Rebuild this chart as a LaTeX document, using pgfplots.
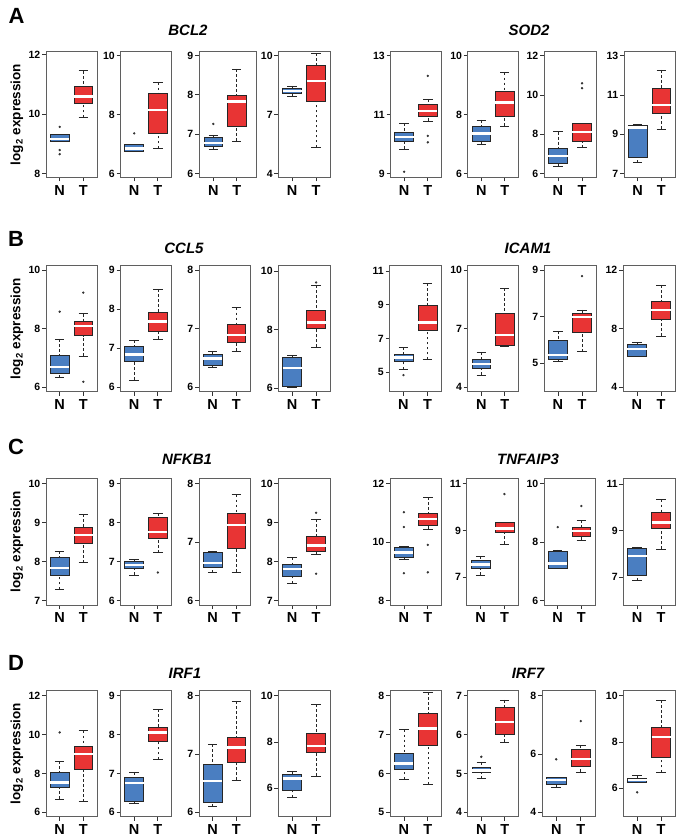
\documentclass[border=0pt]{standalone}
\usepackage{fontspec}
\setmainfont{Liberation Sans}
\usepackage{pgfplots}
\pgfplotsset{compat=1.18}
\usepgfplotslibrary{statistics}
\definecolor{nblue}{RGB}{74,126,193}
\definecolor{tred}{RGB}{232,52,52}
\definecolor{frm}{RGB}{95,95,95}

\pgfplotsset{
  /pgfplots/boxplot/draw/lower whisker/.code={%
    \draw[/pgfplots/boxplot/every whisker/.try, dash pattern=on 2.8pt off 2.2pt]
      (boxplot box cs:\pgfplotsboxplotvalue{lower whisker},0.5) --
      (boxplot box cs:\pgfplotsboxplotvalue{lower quartile},0.5);
    \draw[/pgfplots/boxplot/every whisker/.try]
      (boxplot whisker cs:\pgfplotsboxplotvalue{lower whisker},0) --
      (boxplot whisker cs:\pgfplotsboxplotvalue{lower whisker},1);
  },
  /pgfplots/boxplot/draw/upper whisker/.code={%
    \draw[/pgfplots/boxplot/every whisker/.try, dash pattern=on 2.8pt off 2.2pt]
      (boxplot box cs:\pgfplotsboxplotvalue{upper whisker},0.5) --
      (boxplot box cs:\pgfplotsboxplotvalue{upper quartile},0.5);
    \draw[/pgfplots/boxplot/every whisker/.try]
      (boxplot whisker cs:\pgfplotsboxplotvalue{upper whisker},0) --
      (boxplot whisker cs:\pgfplotsboxplotvalue{upper whisker},1);
  },
  bx/.style={
    scale only axis, anchor=south west,
    xmin=0.42, xmax=2.58,
    xtick={1,2}, xticklabels={N,T},
    axis line style={draw=frm, line width=0.9pt},
    tick align=outside,
    xtick pos=left, ytick pos=left,
    major tick length=4pt,
    tick style={draw=black!80, line width=0.7pt},
    /pgf/number format/assume math mode=true,
    yticklabel style={font=\bfseries\fontsize{10.5}{12}\selectfont, inner sep=1.5pt},
    xticklabel style={font=\bfseries\fontsize{14.5}{16}\selectfont, inner sep=1pt, yshift=-2.5pt},
    boxplot/draw direction=y,
    boxplot/box extend=0.8,
    boxplot/whisker extend=0.4,
    boxplot/every median/.style={draw=white, line width=2.4pt},
    boxplot/every whisker/.style={draw=black!85, line width=0.6pt},
  },
  NN/.style={draw=black!85, line width=0.6pt, mark=*, mark size=0.85pt,
    mark options={fill=black!80, draw=black!80, solid},
    boxplot/every box/.style={fill=nblue, draw=black!85}},
  TT/.style={draw=black!85, line width=0.6pt, mark=*, mark size=0.85pt,
    mark options={fill=black!80, draw=black!80, solid},
    boxplot/every box/.style={fill=tred, draw=black!85}},
}
\newcommand{\bN}[6]{\addplot[NN, boxplot prepared={draw position=1, lower whisker=#1, lower quartile=#2, median=#3, upper quartile=#4, upper whisker=#5}] coordinates {#6};}
\newcommand{\bT}[6]{\addplot[TT, boxplot prepared={draw position=2, lower whisker=#1, lower quartile=#2, median=#3, upper quartile=#4, upper whisker=#5}] coordinates {#6};}

\begin{document}
\begin{tikzpicture}
\path[use as bounding box] (0pt,0pt) rectangle (683pt,840pt);

% ---------- labels ----------
\tikzset{plet/.style={font=\bfseries\fontsize{22}{24}\selectfont},
  gtit/.style={font=\bfseries\itshape\fontsize{15}{17}\selectfont},
  ylab/.style={font=\bfseries\fontsize{13.5}{15}\selectfont, rotate=90}}
\node[plet] at (16.5pt,824pt) {A};
\node[plet] at (16pt,601pt) {B};
\node[plet] at (16pt,393pt) {C};
\node[plet] at (16pt,177pt) {D};
\node[gtit] at (188pt,810pt) {BCL2};
\node[gtit] at (529pt,810pt) {SOD2};
\node[gtit] at (184pt,592pt) {CCL5};
\node[gtit] at (528pt,592pt) {ICAM1};
\node[gtit] at (187pt,381pt) {NFKB1};
\node[gtit] at (528pt,381pt) {TNFAIP3};
\node[gtit] at (185pt,167pt) {IRF1};
\node[gtit] at (528pt,167pt) {IRF7};
\node[ylab] at (17pt,725.5pt) {log\textsubscript{2} expression};
\node[ylab] at (17pt,511.3pt) {log\textsubscript{2} expression};
\node[ylab] at (17pt,298.3pt) {log\textsubscript{2} expression};
\node[ylab] at (17pt,86.3pt) {log\textsubscript{2} expression};

% ================= Row A =================
\begin{axis}[bx, at={(46pt,662.5pt)}, width=51pt, height=126pt, ymin=7.865, ymax=12.11, ytick={8,10,12}]
\bN{9.10}{9.10}{9.17}{9.32}{9.32}{(0,9.57)(0,8.79)(0,8.65)}
\bT{9.89}{10.37}{10.59}{10.93}{11.46}{}
\end{axis}
\begin{axis}[bx, at={(120.5pt,662.5pt)}, width=51pt, height=126pt, ymin=5.864, ymax=10.136, ytick={6,8,10}]
\bN{6.75}{6.76}{6.85}{6.99}{6.99}{(0,7.36)}
\bT{6.85}{7.36}{8.15}{8.72}{9.08}{}
\end{axis}
\begin{axis}[bx, at={(199pt,662.5pt)}, width=57.7pt, height=126pt, xmin=0.389, xmax=2.855, ymin=5.898, ymax=9.102, ytick={6,7,8,9}]
\bN{6.61}{6.68}{6.77}{6.91}{6.98}{(0,7.26)}
\bT{6.83}{7.19}{7.83}{8.00}{8.66}{}
\end{axis}
\begin{axis}[bx, at={(278.3pt,662.5pt)}, width=51.7pt, height=126pt, ymin=3.796, ymax=10.222, ytick={4,7,10}]
\bN{7.92}{8.09}{8.20}{8.35}{8.47}{}
\bT{5.33}{7.70}{8.72}{9.54}{10.14}{}
\end{axis}
\begin{axis}[bx, at={(390.5pt,662.5pt)}, width=51pt, height=126pt, ymin=8.864, ymax=13.148, ytick={9,11,13}]
\bN{9.83}{10.11}{10.25}{10.40}{10.70}{(0,9.06)}
\bT{10.78}{10.95}{11.13}{11.35}{11.53}{(0,12.32)(0,10.28)(0,10.06)}
\end{axis}
\begin{axis}[bx, at={(467.7pt,662.5pt)}, width=50.6pt, height=126pt, ymin=5.864, ymax=10.148, ytick={6,8,10}]
\bN{6.99}{7.10}{7.36}{7.59}{7.82}{}
\bT{7.61}{7.93}{8.41}{8.81}{9.43}{}
\end{axis}
\begin{axis}[bx, at={(544pt,662.5pt)}, width=52pt, height=126pt, ymin=5.796, ymax=12.222, ytick={6,8,10,12}]
\bN{6.39}{6.51}{6.89}{7.28}{8.13}{}
\bT{7.33}{7.62}{8.13}{8.56}{8.56}{(0,10.60)(0,10.35)}
\end{axis}
\begin{axis}[bx, at={(624pt,662.5pt)}, width=51pt, height=126pt, ymin=6.796, ymax=13.222, ytick={7,9,11,13}]
\bN{7.56}{7.85}{9.34}{9.44}{9.52}{}
\bT{9.27}{10.07}{10.48}{11.35}{12.28}{}
\end{axis}

% ================= Row B =================
\begin{axis}[bx, at={(46pt,448.3pt)}, width=51pt, height=126pt, ymin=5.852, ymax=10.148, ytick={6,8,10}]
\bN{6.33}{6.48}{6.70}{7.10}{7.65}{(0,8.58)}
\bT{7.07}{7.76}{8.10}{8.24}{8.51}{(0,9.23)(0,6.19)}
\end{axis}
\begin{axis}[bx, at={(120.5pt,448.3pt)}, width=51pt, height=126pt, ymin=5.888, ymax=9.111, ytick={6,7,8,9}]
\bN{6.19}{6.66}{6.84}{7.06}{7.21}{}
\bT{7.24}{7.42}{7.68}{7.93}{8.51}{}
\end{axis}
\begin{axis}[bx, at={(199pt,448.3pt)}, width=51pt, height=126pt, ymin=5.926, ymax=8.074, ytick={6,7,8}]
\bN{6.34}{6.38}{6.49}{6.57}{6.62}{}
\bT{6.62}{6.76}{6.89}{7.08}{7.36}{}
\end{axis}
\begin{axis}[bx, at={(278.3pt,448.3pt)}, width=51.7pt, height=126pt, ymin=5.886, ymax=10.18, ytick={6,8,10}]
\bN{6.02}{6.06}{6.70}{7.05}{7.11}{}
\bT{7.40}{8.05}{8.25}{8.67}{9.52}{(0,9.61)}
\end{axis}
\begin{axis}[bx, at={(389.5pt,448.3pt)}, width=52pt, height=126pt, ymin=3.856, ymax=11.316, ytick={5,7,9,11}]
\bN{5.18}{5.63}{5.87}{6.07}{6.48}{(0,4.84)}
\bT{5.77}{7.47}{7.96}{9.00}{10.27}{}
\end{axis}
\begin{axis}[bx, at={(467.7pt,448.3pt)}, width=50.6pt, height=126pt, ymin=3.779, ymax=10.222, ytick={4,7,10}]
\bN{4.63}{4.97}{5.19}{5.43}{5.79}{}
\bT{6.08}{6.13}{6.68}{7.78}{9.06}{}
\end{axis}
\begin{axis}[bx, at={(544pt,448.3pt)}, width=52pt, height=126pt, ymin=3.786, ymax=9.186, ytick={5,7,9}]
\bN{5.10}{5.17}{5.36}{5.97}{6.39}{}
\bT{5.50}{6.33}{7.00}{7.14}{7.29}{(0,8.74)}
\end{axis}
\begin{axis}[bx, at={(623pt,448.3pt)}, width=52pt, height=126pt, ymin=3.705, ymax=12.295, ytick={4,8,12}]
\bN{6.14}{6.14}{6.61}{6.93}{7.05}{}
\bT{7.50}{8.64}{9.27}{9.89}{10.98}{}
\end{axis}

% ================= Row C =================
\begin{axis}[bx, at={(46pt,235pt)}, width=51pt, height=126.5pt, ymin=6.888, ymax=10.128, ytick={7,8,9,10}]
\bN{7.29}{7.64}{7.84}{8.10}{8.27}{}
\bT{7.97}{8.48}{8.68}{8.87}{9.21}{}
\end{axis}
\begin{axis}[bx, at={(120.5pt,235pt)}, width=51pt, height=126.5pt, ymin=5.888, ymax=9.128, ytick={6,7,8,9}]
\bN{6.66}{6.84}{6.91}{7.00}{7.06}{}
\bT{7.23}{7.59}{7.75}{8.13}{8.23}{(0,6.72)}
\end{axis}
\begin{axis}[bx, at={(199pt,235pt)}, width=51pt, height=126.5pt, ymin=5.926, ymax=8.085, ytick={6,7,8}]
\bN{6.48}{6.57}{6.64}{6.82}{6.85}{}
\bT{6.49}{6.89}{7.29}{7.49}{7.81}{}
\end{axis}
\begin{axis}[bx, at={(278.3pt,235pt)}, width=51.7pt, height=126.5pt, ymin=6.888, ymax=10.128, ytick={7,8,9,10}]
\bN{7.44}{7.63}{7.81}{7.93}{8.10}{}
\bT{8.19}{8.27}{8.41}{8.64}{9.09}{(0,9.25)(0,7.69)}
\end{axis}
\begin{axis}[bx, at={(390pt,235pt)}, width=51.7pt, height=126.5pt, ymin=7.851, ymax=12.183, ytick={8,10,12}]
\bN{9.43}{9.49}{9.65}{9.83}{9.87}{(0,11.03)(0,10.52)(0,8.94)}
\bT{10.45}{10.57}{10.80}{11.00}{11.54}{(0,9.91)(0,8.97)}
\end{axis}
\begin{axis}[bx, at={(466.7pt,235pt)}, width=51.6pt, height=126.5pt, ymin=5.823, ymax=11.213, ytick={7,9,11}]
\bN{7.10}{7.38}{7.55}{7.71}{7.91}{}
\bT{8.42}{8.91}{9.09}{9.33}{9.33}{(0,10.55)}
\end{axis}
\begin{axis}[bx, at={(544pt,235pt)}, width=51pt, height=126.5pt, ymin=5.852, ymax=10.17, ytick={6,8,10}]
\bN{7.10}{7.10}{7.27}{7.67}{7.73}{(0,8.51)}
\bT{8.07}{8.21}{8.38}{8.49}{8.75}{(0,9.23)}
\end{axis}
\begin{axis}[bx, at={(623.3pt,235pt)}, width=51.7pt, height=126.5pt, ymin=5.814, ymax=11.243, ytick={7,9,11}]
\bN{6.86}{7.10}{7.91}{8.24}{8.31}{}
\bT{8.21}{9.10}{9.36}{9.81}{10.34}{}
\end{axis}

% ================= Row D =================
\begin{axis}[bx, at={(46pt,23.3pt)}, width=51pt, height=126pt, ymin=5.777, ymax=12.257, ytick={6,8,10,12}]
\bN{6.69}{7.29}{7.53}{8.06}{8.64}{(0,10.11)}
\bT{6.55}{8.21}{9.00}{9.38}{10.20}{}
\end{axis}
\begin{axis}[bx, at={(120.5pt,23.3pt)}, width=51pt, height=126pt, ymin=5.889, ymax=9.129, ytick={6,7,8,9}]
\bN{6.23}{6.29}{6.76}{6.89}{7.03}{}
\bT{7.36}{7.83}{8.05}{8.20}{8.65}{}
\end{axis}
\begin{axis}[bx, at={(199pt,23.3pt)}, width=51pt, height=126pt, ymin=5.926, ymax=8.086, ytick={6,7,8}]
\bN{6.10}{6.17}{6.54}{6.82}{7.17}{}
\bT{6.55}{6.86}{7.11}{7.29}{7.91}{}
\end{axis}
\begin{axis}[bx, at={(278.3pt,23.3pt)}, width=51.7pt, height=126pt, ymin=4.777, ymax=10.216, ytick={6,8,10}]
\bN{5.61}{5.93}{6.43}{6.60}{6.75}{}
\bT{6.53}{7.54}{7.83}{8.37}{9.64}{}
\end{axis}
\begin{axis}[bx, at={(390pt,23.3pt)}, width=51.7pt, height=126pt, ymin=4.889, ymax=8.129, ytick={5,6,7,8}]
\bN{5.85}{6.11}{6.26}{6.53}{7.13}{}
\bT{5.72}{6.73}{7.16}{7.55}{8.09}{}
\end{axis}
\begin{axis}[bx, at={(467.7pt,23.3pt)}, width=50.6pt, height=126pt, ymin=3.889, ymax=7.129, ytick={4,5,6,7}]
\bN{4.87}{5.02}{5.08}{5.17}{5.30}{(0,5.43)}
\bT{5.81}{6.00}{6.33}{6.70}{6.89}{}
\end{axis}
\begin{axis}[bx, at={(542pt,23.3pt)}, width=53pt, height=126pt, ymin=3.851, ymax=8.171, ytick={4,6,8}]
\bN{4.85}{4.96}{5.11}{5.19}{5.19}{(0,5.82)}
\bT{5.39}{5.59}{5.82}{6.16}{6.29}{(0,7.13)}
\end{axis}
\begin{axis}[bx, at={(623.3pt,23.3pt)}, width=51.7pt, height=126pt, ymin=4.777, ymax=10.216, ytick={6,8,10}]
\bN{6.26}{6.26}{6.36}{6.43}{6.55}{(0,5.83)}
\bT{6.69}{7.32}{8.23}{8.62}{9.81}{}
\end{axis}
\end{tikzpicture}
\end{document}
